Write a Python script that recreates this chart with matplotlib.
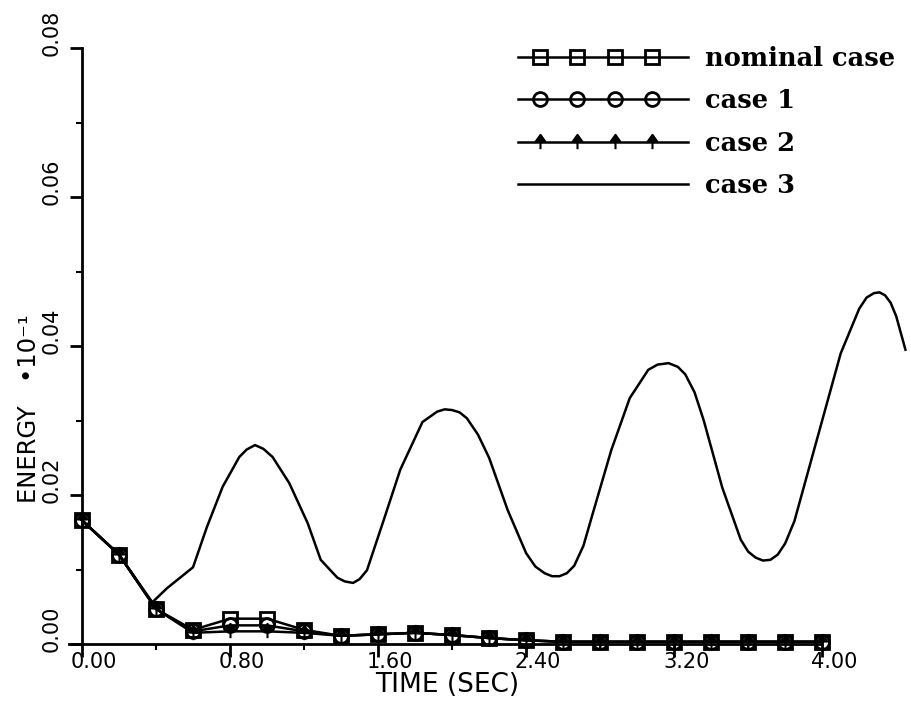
import numpy as np
import matplotlib
matplotlib.use("Agg")
import matplotlib.pyplot as plt
from matplotlib.lines import Line2D
from matplotlib.path import Path
from matplotlib.legend_handler import HandlerLine2D
from matplotlib.transforms import ScaledTranslation
from matplotlib.font_manager import FontProperties

# sampled every 0.2 s
timeSteps = [0.0, 0.2, 0.4, 0.6, 0.8, 1.0, 1.2, 1.4, 1.6, 1.8, 2.0,
             2.2, 2.4, 2.6, 2.8, 3.0, 3.2, 3.4, 3.6, 3.8, 4.0]
nominalEnergy = [0.0166, 0.0120, 0.0047, 0.0019, 0.0034, 0.0034, 0.0019,
                 0.0011, 0.0013, 0.0015, 0.0012, 0.0008, 0.0005, 0.0003,
                 0.0003, 0.0003, 0.0003, 0.0003, 0.0003, 0.0003, 0.0003]
case1Energy = [0.0166, 0.0120, 0.0047, 0.0017, 0.0025, 0.0025, 0.0017,
               0.0011, 0.0013, 0.0015, 0.0012, 0.0008, 0.0005, 0.0003,
               0.0003, 0.0003, 0.0003, 0.0003, 0.0003, 0.0003, 0.0003]
case2Energy = [0.0166, 0.0120, 0.0047, 0.0015, 0.0017, 0.0017, 0.0015,
               0.0011, 0.0013, 0.0015, 0.0012, 0.0008, 0.0005, 0.0003,
               0.0003, 0.0003, 0.0003, 0.0003, 0.0003, 0.0003, 0.0003]

# case 3 is the unstable run, traced on a finer time grid
case3Time = [0.0, 0.2, 0.38, 0.46, 0.55, 0.60, 0.675, 0.76, 0.85, 0.89,
             0.935, 0.98, 1.03, 1.12, 1.22, 1.29, 1.38, 1.42, 1.465, 1.50,
             1.54, 1.63, 1.72, 1.84, 1.92, 1.96, 2.0, 2.04, 2.08, 2.14,
             2.2, 2.3, 2.4, 2.45, 2.5, 2.54, 2.58, 2.62, 2.66, 2.71,
             2.76, 2.86, 2.96, 3.06, 3.11, 3.17, 3.22, 3.26, 3.31, 3.36,
             3.46, 3.56, 3.60, 3.64, 3.68, 3.72, 3.76, 3.80, 3.85, 3.90,
             4.00, 4.10, 4.20, 4.24, 4.28, 4.31, 4.34, 4.37, 4.40, 4.45]
case3Energy = [0.0166, 0.0120, 0.0056, 0.0075, 0.0093, 0.0103, 0.0157,
               0.0211, 0.0251, 0.0261, 0.0267, 0.0262, 0.0251, 0.0216,
               0.0162, 0.0113, 0.0089, 0.0084, 0.0082, 0.0087, 0.0099,
               0.0166, 0.0234, 0.0298, 0.0312, 0.0315, 0.0314, 0.0311,
               0.0303, 0.0281, 0.0250, 0.0180, 0.0122, 0.0104, 0.0095,
               0.0091, 0.0091, 0.0095, 0.0105, 0.0132, 0.0175, 0.0260,
               0.0330, 0.0368, 0.0375, 0.0377, 0.0372, 0.0362, 0.0338,
               0.0300, 0.0210, 0.0140, 0.0124, 0.0116, 0.0112, 0.0113,
               0.0120, 0.0135, 0.0165, 0.0210, 0.0300, 0.0390, 0.0450,
               0.0465, 0.0471, 0.0472, 0.0468, 0.0458, 0.0440, 0.0395]

xTicks = [0.0, 0.8, 1.6, 2.4, 3.2, 4.0]
yTicks = [0.00, 0.02, 0.04, 0.06, 0.08]
seriesLabels = ["nominal case", "case 1", "case 2", "case 3"]

# little arrow: filled head above the line, short stem below it
arrowMarker = Path(
    [(-0.5, 0.1), (0.0, 0.8), (0.5, 0.1), (-0.5, 0.1), (0.0, 0.1), (0.0, -0.7)],
    [Path.MOVETO, Path.LINETO, Path.LINETO, Path.CLOSEPOLY, Path.MOVETO, Path.LINETO],
)


class LongLineHandler(HandlerLine2D):
    """Legend sample whose line runs past the first and last marker."""

    def create_artists(self, legend, orig_handle, xdescent, ydescent,
                       width, height, fontsize, trans):
        artists = super().create_artists(legend, orig_handle, xdescent, ydescent,
                                         width, height, fontsize, trans)
        sample = artists[0]
        start, end = -xdescent, -xdescent + width
        inner = np.linspace(start + 0.13 * width, end - 0.21 * width, 4)
        xs = np.concatenate([[start], inner, [end]])
        sample.set_data(xs, np.full_like(xs, (height - ydescent) / 2))
        sample.set_markevery([1, 2, 3, 4])
        return artists


fig = plt.figure(figsize=(9.11, 7.13), dpi=100)
ax = fig.add_axes([82 / 911, 69 / 713, 829 / 911, 596 / 713])

lineStyle = dict(color="black", linewidth=1.8, clip_on=False)
ax.plot(timeSteps, nominalEnergy, marker="s", markersize=10,
        markerfacecolor="none", markeredgewidth=2, label=seriesLabels[0], **lineStyle)
ax.plot(timeSteps, case1Energy, marker="o", markersize=10,
        markerfacecolor="none", markeredgewidth=2, label=seriesLabels[1], **lineStyle)
ax.plot(timeSteps, case2Energy, marker=arrowMarker, markersize=11,
        markeredgewidth=1.5, label=seriesLabels[2], **lineStyle)
ax.plot(case3Time, case3Energy, label=seriesLabels[3], **lineStyle)

ax.set_xlim(0, 4.48)
ax.set_ylim(0, 0.08)
ax.set_xticks(xTicks)
ax.set_xticklabels([f"{v:.2f}" for v in xTicks])
ax.set_xticks([0.4, 1.2, 2.0, 2.8, 3.6], minor=True)
ax.set_yticks(yTicks)
ax.set_yticklabels([f"{v:.2f}" for v in yTicks])
ax.set_yticks([0.01, 0.03, 0.05, 0.07], minor=True)

for side in ["top", "right"]:
    ax.spines[side].set_visible(False)
for side in ["left", "bottom"]:
    ax.spines[side].set_linewidth(2)
ax.spines["bottom"].set_bounds(-0.07, 4.0)

ax.tick_params(which="major", direction="out", length=9, width=2,
               labelsize=15, color="black")
ax.tick_params(which="minor", direction="out", length=4, width=1.5)
ax.tick_params(axis="x", pad=-3)
ax.tick_params(axis="y", pad=6, labelrotation=90)

# the old plotter set its tick numbers a bit off the tick marks
for label in ax.get_xticklabels():
    label.set_transform(label.get_transform() + ScaledTranslation(0.12, 0, fig.dpi_scale_trans))
for label in ax.get_yticklabels():
    label.set_verticalalignment("center")
    label.set_transform(label.get_transform() + ScaledTranslation(0, 0.15, fig.dpi_scale_trans))

ax.set_xlabel("TIME (SEC)", fontsize=19)
ax.xaxis.set_label_coords(0.44, -0.047)
ax.set_ylabel("ENERGY   •10⁻¹", fontsize=17.5)
ax.yaxis.set_label_coords(-0.049, 0.395)

legendFont = FontProperties(family="DejaVu Serif", weight="bold", size=18.5)
ax.legend(loc="upper left", bbox_to_anchor=(518 / 911, 1 - 46 / 713),
          bbox_transform=fig.transFigure, frameon=False, borderpad=0,
          borderaxespad=0, handlelength=6.6, handletextpad=0.66,
          labelspacing=0.68, prop=legendFont,
          handler_map={Line2D: LongLineHandler(numpoints=4)})

fig.savefig("out.png", dpi=100)
